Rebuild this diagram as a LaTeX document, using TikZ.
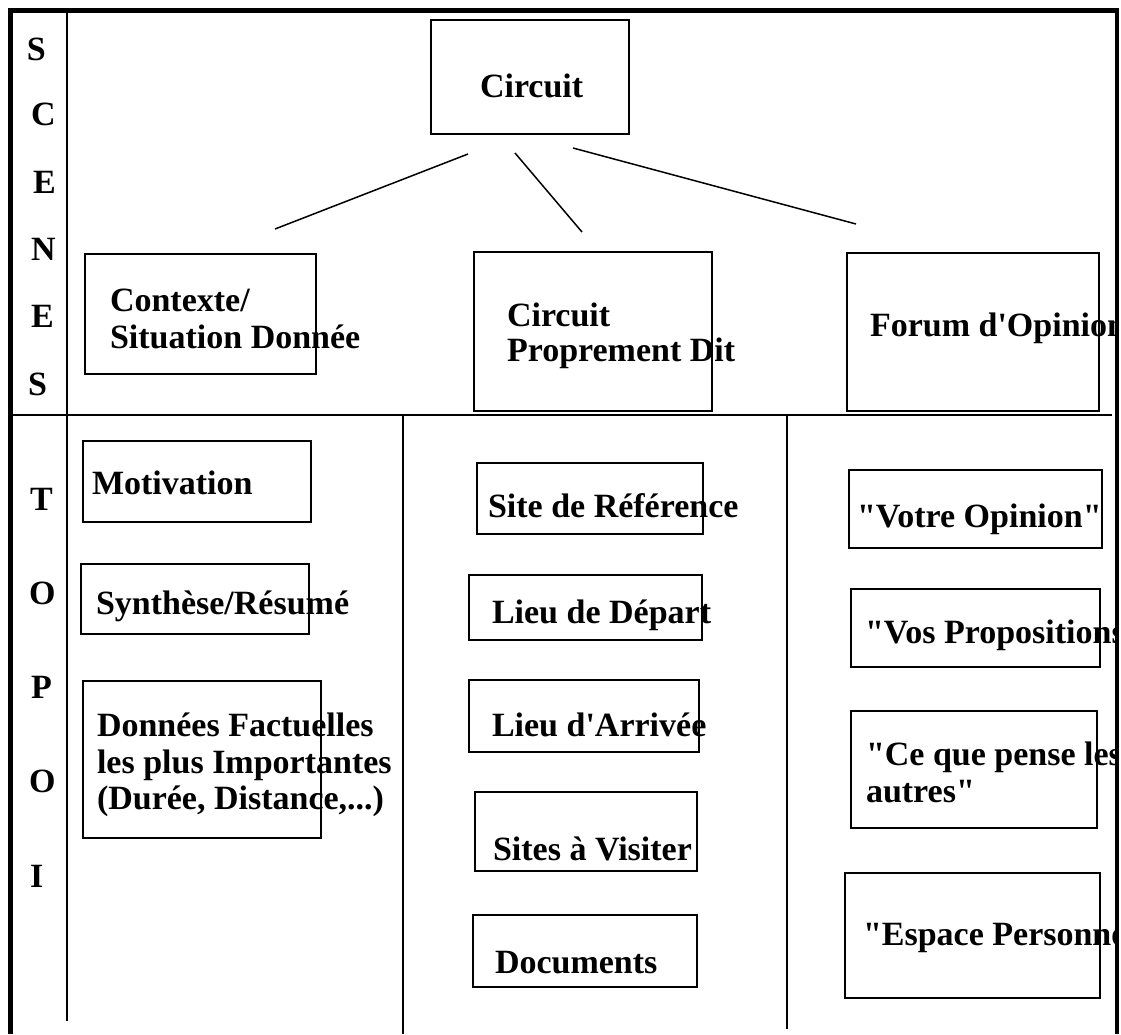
\documentclass[tikz,border=0pt]{standalone}
\usepackage{fontspec}
\setmainfont{Liberation Serif}
% straight quotes, set as glyphs so the TeX input mapping leaves them alone
\newcommand\dq{\XeTeXglyph\XeTeXcharglyph"22\relax}
\newcommand\sq{\XeTeXglyph\XeTeXcharglyph"27\relax}
\begin{document}
\begin{tikzpicture}[x=1pt,y=-1pt,
  frame/.style={draw, line width=1.4pt, inner sep=0pt, outer sep=0pt},
  lbl/.style={anchor=base west, inner sep=0pt, outer sep=0pt,
    font=\bfseries\fontsize{34}{39}\selectfont},
  rulestyle/.style={line width=2pt},
  borderstyle/.style={line width=4.5pt},
  link/.style={line width=1.5pt}]
\useasboundingbox (0,0) rectangle (1121,1034);

% ---- boxes ----
\node[frame, minimum width=198pt, minimum height=114pt] (circuit)    at (530,77) {};
\node[frame, minimum width=231pt, minimum height=120pt] (contexte)   at (200.5,314) {};
\node[frame, minimum width=238pt, minimum height=159pt] (propre)     at (593,331.5) {};
\node[frame, minimum width=252pt, minimum height=158pt] (forum)      at (973,332) {};
\node[frame, minimum width=228pt, minimum height=81pt]  (motiv)      at (197,481.5) {};
\node[frame, minimum width=228pt, minimum height=70pt]  (synth)      at (195,599) {};
\node[frame, minimum width=238pt, minimum height=157pt] (donnees)    at (202,759.5) {};
\node[frame, minimum width=226pt, minimum height=71pt]  (siteref)    at (590,498.5) {};
\node[frame, minimum width=233pt, minimum height=65pt]  (depart)     at (585.5,607.5) {};
\node[frame, minimum width=230pt, minimum height=72pt]  (arrivee)    at (584,716) {};
\node[frame, minimum width=222pt, minimum height=79pt]  (visiter)    at (586,831.5) {};
\node[frame, minimum width=224pt, minimum height=72pt]  (docs)       at (585,951) {};
\node[frame, minimum width=253pt, minimum height=78pt]  (votre)      at (975.5,509) {};
\node[frame, minimum width=249pt, minimum height=78pt]  (vos)        at (975.5,628) {};
\node[frame, minimum width=246pt, minimum height=117pt] (autres)     at (974,769.5) {};
\node[frame, minimum width=255pt, minimum height=125pt] (espace)     at (972.5,935.5) {};

% ---- texts ----
\begin{scope}
\clip (0,0) rectangle (1115,1034);
\node[lbl] (tcircuit) at (480,97) {Circuit};
\node[lbl] (tctx1) at (110,311) {Contexte/};
\node[lbl] (tctx2) at (110,348) {Situation Donnée};
\node[lbl] (tpr1) at (507,326) {Circuit};
\node[lbl] (tpr2) at (507,361) {Proprement Dit};
\node[lbl] (tforum) at (870,336) {Forum d\sq Opinion};
\node[lbl] (tmotiv) at (92,494) {Motivation};
\node[lbl] (tsynth) at (96,614) {Synthèse/Résumé};
\node[lbl] (tdon1) at (97,736) {Données Factuelles};
\node[lbl] (tdon2) at (97,773) {les plus Importantes};
\node[lbl] (tdon3) at (97,809) {(Durée, Distance,...)};
\node[lbl] (tsite) at (488,517) {Site de Référence};
\node[lbl] (tdep) at (492,623) {Lieu de Départ};
\node[lbl] (tarr) at (492,736) {Lieu d\sq Arrivée};
\node[lbl] (tvis) at (493,860) {Sites à Visiter};
\node[lbl] (tdoc) at (495,973) {Documents};
\node[lbl] (tvotre) at (857,527) {\dq Votre Opinion\dq};
\node[lbl] (tvos) at (865,643) {\dq Vos Propositions\dq};
\node[lbl] (taut1) at (866,765) {\dq Ce que pense les};
\node[lbl] (taut2) at (866,802) {autres\dq};
\node[lbl] (tesp) at (863,945) {\dq Espace Personnel\dq};
\end{scope}

% ---- side letters ----
\node[lbl] (s1) at (27,60) {S};
\node[lbl] (s2) at (31,125) {C};
\node[lbl] (s3) at (33,193) {E};
\node[lbl] (s4) at (31,260) {N};
\node[lbl] (s5) at (31,327) {E};
\node[lbl] (s6) at (28,395) {S};
\node[lbl] (t1) at (30,510) {T};
\node[lbl] (t2) at (29,604) {O};
\node[lbl] (t3) at (31,698) {P};
\node[lbl] (t4) at (29,792) {O};
\node[lbl] (t5) at (30,887) {I};

% ---- connectors from the top box ----
\coordinate (c1a) at (468,154); \coordinate (c1b) at (275,229);
\coordinate (c2a) at (515,153); \coordinate (c2b) at (582,232);
\coordinate (c3a) at (573,148); \coordinate (c3b) at (856,224);
\draw[link] (c1a) -- (c1b);
\draw[link] (c2a) -- (c2b);
\draw[link] (c3a) -- (c3b);

% ---- grid rules ----
\coordinate (hl) at (13,415);   \coordinate (hr) at (1112,415);
\coordinate (v0t) at (67,13);   \coordinate (v0b) at (67,1021);
\coordinate (v1t) at (403,416); \coordinate (v1b) at (403,1034);
\coordinate (v2t) at (787,416); \coordinate (v2b) at (787,1029);
\draw[rulestyle] (hl) -- (hr);
\draw[rulestyle] (v0t) -- (v0b);
\draw[rulestyle] (v1t) -- (v1b);
\draw[rulestyle] (v2t) -- (v2b);

% ---- outer frame (open at the bottom) ----
\coordinate (bl) at (10.5,1034); \coordinate (tl) at (10.5,10.5);
\coordinate (tr) at (1117,10.5); \coordinate (br) at (1117,1034);
\draw[borderstyle, line join=miter] (bl) -- (tl) -- (tr) -- (br);
\end{tikzpicture}
\end{document}
